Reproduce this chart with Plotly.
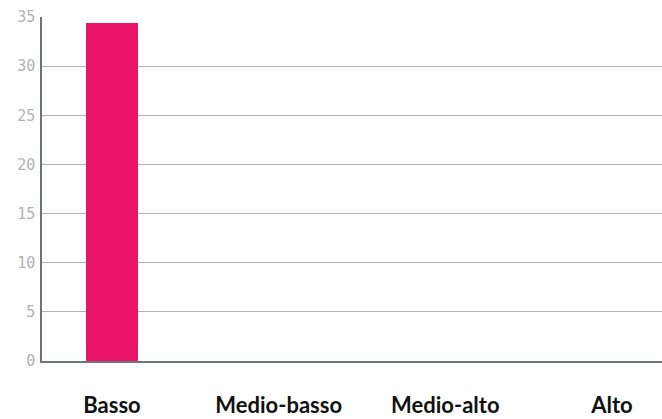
import plotly.graph_objects as go

categories = ["Basso", "Medio-basso", "Medio-alto", "Alto"]
values = [34.4, 0, 0, 0]
y_ticks = [0, 5, 10, 15, 20, 25, 30, 35]

fig = go.Figure()
fig.add_trace(go.Bar(
    x=categories, y=values,
    marker=dict(color="#e8156b", line=dict(width=0)),
    width=0.31,
))

fig.update_layout(
    width=662, height=419,
    paper_bgcolor="white", plot_bgcolor="white",
    margin=dict(l=42, r=0, t=17, b=58),
    showlegend=False,
    bargap=0,
)
fig.update_xaxes(
    range=[-0.42, 3.30],
    showline=True, linecolor="#6e7378", linewidth=1.5,
    showgrid=False,
    tickfont=dict(family="Lato, sans-serif", size=22, color="#111111", weight="bold"),
    ticks="", ticklabelstandoff=24,
)
fig.update_yaxes(
    range=[0, 35],
    tickvals=y_ticks,
    showline=True, linecolor="#6e7378", linewidth=1.5,
    gridcolor="#b0b4b8", gridwidth=1,
    zeroline=False,
    tickfont=dict(family="DejaVu Sans Mono, monospace", size=15, color="#adb3ba"),
    ticks="", ticklabelstandoff=2,
)

# drop the default page margin so the figure fills the window exactly
fig.write_html(
    "out.html",
    config={"displayModeBar": False},
    post_script="document.body.style.margin='0';document.body.style.overflow='hidden';",
)
